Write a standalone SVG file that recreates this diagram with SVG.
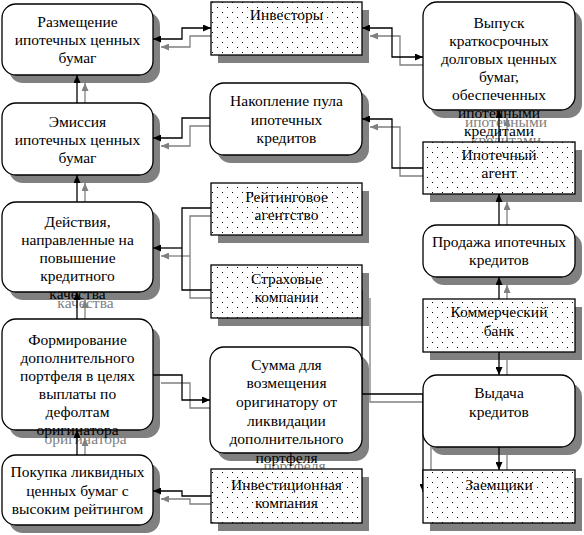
<svg xmlns="http://www.w3.org/2000/svg" width="584" height="535" viewBox="0 0 584 535">
<style>
.sh{fill:#808080}
.box{fill:#fff;stroke:#000;stroke-width:1.3}
.dot{fill:url(#dots);stroke:#000;stroke-width:1.3}
.t{font-family:"Liberation Serif","Times New Roman",serif;font-size:15.5px;text-anchor:middle;fill:#000}
.ts{fill:#808080}
.c{fill:none;stroke:#000;stroke-width:1.3}
.cg{fill:none;stroke:#808080;stroke-width:1.3}
</style>
<defs>
<pattern id="dots" width="10" height="10" patternUnits="userSpaceOnUse">
<rect width="10" height="10" fill="#fff"/>
<rect x="2" y="2" width="1" height="1" fill="#000"/>
<rect x="7" y="7" width="1" height="1" fill="#000"/>
</pattern>
<marker id="ab" viewBox="0 0 8 7" refX="8" refY="3.5" markerWidth="8" markerHeight="7" markerUnits="userSpaceOnUse" orient="auto-start-reverse"><path d="M0,0L8,3.5L0,7z" fill="#000"/></marker>
<marker id="ag" viewBox="0 0 8 7" refX="8" refY="3.5" markerWidth="8" markerHeight="7" markerUnits="userSpaceOnUse" orient="auto-start-reverse"><path d="M0,0L8,3.5L0,7z" fill="#808080"/></marker>
</defs>

<g id="shadows">
<rect class="sh" x="9" y="12" width="151" height="71" rx="14"/>
<rect class="sh" x="9" y="111" width="151" height="72" rx="14"/>
<rect class="sh" x="9" y="210" width="151" height="90" rx="14"/>
<text class="t ts" x="85.5" y="308">качества</text>
<rect class="sh" x="9" y="327" width="151" height="111" rx="14"/>
<text class="t ts" x="85.5" y="444">оригинатора</text>
<rect class="sh" x="9" y="463" width="151" height="70" rx="14"/>
<rect class="sh" x="218" y="10" width="151" height="53"/>
<rect class="sh" x="217" y="91" width="152" height="72" rx="14"/>
<rect class="sh" x="218" y="191" width="151" height="52"/>
<rect class="sh" x="218" y="273" width="151" height="53"/>
<rect class="sh" x="217" y="355" width="152" height="106" rx="14"/>
<text class="t ts" x="294.5" y="471">портфеля</text>
<rect class="sh" x="218" y="477" width="151" height="54"/>
<rect class="sh" x="430" y="10" width="152" height="108" rx="14"/>
<text class="t ts" x="506" y="127">ипотечными</text>
<text class="t ts" x="506" y="145">кредитами</text>
<rect class="sh" x="430" y="150" width="152" height="52"/>
<rect class="sh" x="430" y="233" width="152" height="52" rx="14"/>
<rect class="sh" x="430" y="307" width="152" height="53"/>
<rect class="sh" x="430" y="383" width="152" height="72" rx="14"/>
<rect class="sh" x="430" y="478" width="152" height="53"/>
</g>

<g id="connectors">
<g id="connector-shadows">
<path class="cg" d="M161,47H190V36H219" marker-start="url(#ag)" marker-end="url(#ag)"/>
<path class="cg" d="M370,36H400V65H431" marker-start="url(#ag)" marker-end="url(#ag)"/>
<path class="cg" d="M219,126H190V146H161" marker-end="url(#ag)"/>
<path class="cg" d="M431,176H400V127H370" marker-end="url(#ag)"/>
<path class="cg" d="M507,150V118" marker-end="url(#ag)"/>
<path class="cg" d="M507,233V202" marker-end="url(#ag)"/>
<path class="cg" d="M507,307V285" marker-end="url(#ag)"/>
<path class="cg" d="M507,360V383" marker-end="url(#ag)"/>
<path class="cg" d="M507,455V478" marker-end="url(#ag)"/>
<path class="cg" d="M85,111V83" marker-end="url(#ag)"/>
<path class="cg" d="M85,210V183" marker-end="url(#ag)"/>
<path class="cg" d="M85,327V300" marker-end="url(#ag)"/>
<path class="cg" d="M85,463V438" marker-end="url(#ag)"/>
<path class="cg" d="M219,216H190V298H219"/>
<path class="cg" d="M190,256H161" marker-end="url(#ag)"/>
<path class="cg" d="M161,383H190V408H218" marker-end="url(#ag)"/>
<path class="cg" d="M219,504H190V499H161" marker-end="url(#ag)"/>
<path class="cg" d="M370,298V402H431V500" marker-end="url(#ag)"/>
</g>
<g id="connector-lines">
<path class="c" d="M153,39H182V28H211" marker-start="url(#ab)" marker-end="url(#ab)"/>
<path class="c" d="M362,28H392V57H423" marker-start="url(#ab)" marker-end="url(#ab)"/>
<path class="c" d="M211,118H182V138H153" marker-end="url(#ab)"/>
<path class="c" d="M423,168H392V119H362" marker-end="url(#ab)"/>
<path class="c" d="M499,142V110" marker-end="url(#ab)"/>
<path class="c" d="M499,225V194" marker-end="url(#ab)"/>
<path class="c" d="M499,299V277" marker-end="url(#ab)"/>
<path class="c" d="M499,352V375" marker-end="url(#ab)"/>
<path class="c" d="M499,447V470" marker-end="url(#ab)"/>
<path class="c" d="M77,103V75" marker-end="url(#ab)"/>
<path class="c" d="M77,202V175" marker-end="url(#ab)"/>
<path class="c" d="M77,319V292" marker-end="url(#ab)"/>
<path class="c" d="M77,455V430" marker-end="url(#ab)"/>
<path class="c" d="M211,208H182V290H211"/>
<path class="c" d="M182,248H153" marker-end="url(#ab)"/>
<path class="c" d="M153,375H182V400H210" marker-end="url(#ab)"/>
<path class="c" d="M211,496H182V491H153" marker-end="url(#ab)"/>
<path class="c" d="M362,290V394H423V492" marker-end="url(#ab)"/>
</g>
</g>

<g id="n-razmeshchenie">
<rect class="box" x="2" y="4" width="151" height="71" rx="14"/>
<text class="t" x="77.5" y="27">Размещение</text>
<text class="t" x="77.5" y="45">ипотечных ценных</text>
<text class="t" x="77.5" y="63">бумаг</text>
</g>
<g id="n-emissiya">
<rect class="box" x="2" y="103" width="151" height="72" rx="14"/>
<text class="t" x="77.5" y="127">Эмиссия</text>
<text class="t" x="77.5" y="145">ипотечных ценных</text>
<text class="t" x="77.5" y="163">бумаг</text>
</g>
<g id="n-deistviya">
<rect class="box" x="2" y="202" width="151" height="90" rx="14"/>
<text class="t" x="77.5" y="227">Действия,</text>
<text class="t" x="77.5" y="245">направленные на</text>
<text class="t" x="77.5" y="263">повышение</text>
<text class="t" x="77.5" y="281">кредитного</text>
<text class="t" x="77.5" y="299">качества</text>
</g>
<g id="n-formirovanie">
<rect class="box" x="2" y="319" width="151" height="111" rx="14"/>
<text class="t" x="77.5" y="345">Формирование</text>
<text class="t" x="77.5" y="363">дополнительного</text>
<text class="t" x="77.5" y="381">портфеля в целях</text>
<text class="t" x="77.5" y="399">выплаты по</text>
<text class="t" x="77.5" y="417">дефолтам</text>
<text class="t" x="77.5" y="435">оригинатора</text>
</g>
<g id="n-pokupka">
<rect class="box" x="2" y="455" width="151" height="70" rx="14"/>
<text class="t" x="77.5" y="477">Покупка ликвидных</text>
<text class="t" x="77.5" y="496">ценных бумаг с</text>
<text class="t" x="77.5" y="514">высоким рейтингом</text>
</g>

<g id="n-investory">
<rect class="dot" x="211" y="2" width="151" height="53"/>
<text class="t" x="286.5" y="20">Инвесторы</text>
</g>
<g id="n-nakoplenie">
<rect class="box" x="210" y="83" width="152" height="72" rx="14"/>
<text class="t" x="286.5" y="106">Накопление пула</text>
<text class="t" x="286.5" y="125">ипотечных</text>
<text class="t" x="286.5" y="143">кредитов</text>
</g>
<g id="n-reiting">
<rect class="dot" x="211" y="183" width="151" height="52"/>
<text class="t" x="286.5" y="202">Рейтинговое</text>
<text class="t" x="286.5" y="220">агентство</text>
</g>
<g id="n-strakhovye">
<rect class="dot" x="211" y="265" width="151" height="53"/>
<text class="t" x="286.5" y="284">Страховые</text>
<text class="t" x="286.5" y="302">компании</text>
</g>
<g id="n-summa">
<rect class="box" x="210" y="347" width="152" height="106" rx="14"/>
<text class="t" x="286.5" y="370">Сумма для</text>
<text class="t" x="286.5" y="388">возмещения</text>
<text class="t" x="286.5" y="407">оригинатору от</text>
<text class="t" x="286.5" y="426">ликвидации</text>
<text class="t" x="286.5" y="444">дополнительного</text>
<text class="t" x="286.5" y="463">портфеля</text>
</g>
<g id="n-invest-komp">
<rect class="dot" x="211" y="469" width="151" height="54"/>
<text class="t" x="286.5" y="490">Инвестиционная</text>
<text class="t" x="286.5" y="508">компания</text>
</g>

<g id="n-vypusk">
<rect class="box" x="423" y="2" width="152" height="108" rx="14"/>
<text class="t" x="499" y="28">Выпуск</text>
<text class="t" x="499" y="46">краткосрочных</text>
<text class="t" x="499" y="64">долговых ценных</text>
<text class="t" x="499" y="82">бумаг,</text>
<text class="t" x="499" y="100">обеспеченных</text>
<text class="t" x="499" y="118">ипотечными</text>
<text class="t" x="499" y="136">кредитами</text>
</g>
<g id="n-agent">
<rect class="dot" x="423" y="142" width="152" height="52"/>
<text class="t" x="499" y="160">Ипотечный</text>
<text class="t" x="499" y="178">агент</text>
</g>
<g id="n-prodazha">
<rect class="box" x="423" y="225" width="152" height="52" rx="14"/>
<text class="t" x="499" y="247">Продажа ипотечных</text>
<text class="t" x="499" y="265">кредитов</text>
</g>
<g id="n-bank">
<rect class="dot" x="423" y="299" width="152" height="53"/>
<text class="t" x="499" y="317">Коммерческий</text>
<text class="t" x="499" y="336">банк</text>
</g>
<g id="n-vydacha">
<rect class="box" x="423" y="375" width="152" height="72" rx="14"/>
<text class="t" x="499" y="398">Выдача</text>
<text class="t" x="499" y="417">кредитов</text>
</g>
<g id="n-zaemshchiki">
<rect class="dot" x="423" y="470" width="152" height="53"/>
<text class="t" x="499" y="490">Заемщики</text>
</g>
</svg>
